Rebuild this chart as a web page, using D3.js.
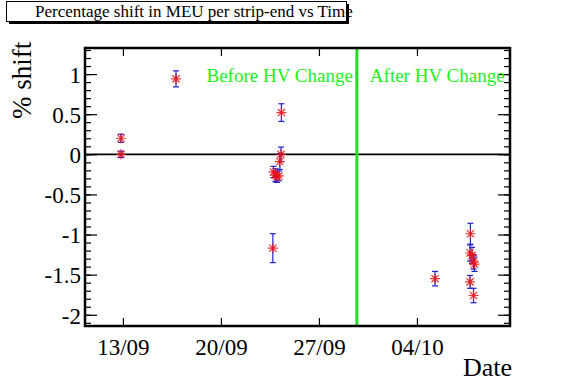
<!DOCTYPE html>
<html>
<head>
<meta charset="utf-8">
<script src="https://cdn.jsdelivr.net/npm/d3@7"></script>
<style>
  body { margin: 0; background: #fff; }
  svg text { font-family: "Liberation Serif", "DejaVu Serif", serif; }
</style>
</head>
<body>
<svg id="chart" width="567" height="384"></svg>
<script>
// measurement times (UTC), % shift and its error
var dates = [
  "2005-09-12T20:40", "2005-09-12T20:40", "2005-09-16T19:00",
  "2005-09-23T17:00", "2005-09-23T18:00", "2005-09-23T21:20", "2005-09-24T00:00",
  "2005-09-24T03:20", "2005-09-24T05:00", "2005-09-24T07:00", "2005-09-24T07:40",
  "2005-10-05T07:00", "2005-10-07T19:40", "2005-10-07T19:00", "2005-10-07T22:20",
  "2005-10-08T01:00", "2005-10-08T02:40", "2005-10-07T19:00", "2005-10-08T01:00"
];
var shifts = [
  0.2, 0.0, 0.94,
  -1.17, -0.22, -0.26, -0.28,
  -0.27, -0.09, 0.0, 0.52,
  -1.55, -0.99, -1.23, -1.26,
  -1.34, -1.37, -1.59, -1.76
];
var errors = [
  0.05, 0.04, 0.1,
  0.18, 0.07, 0.08, 0.07,
  0.06, 0.1, 0.09, 0.11,
  0.09, 0.13, 0.1, 0.1,
  0.09, 0.09, 0.08, 0.09
];
var xTickDates = ["2005-09-13", "2005-09-20", "2005-09-27", "2005-10-04"];
var yMajor = [-2, -1.5, -1, -0.5, 0, 0.5, 1];
var hvChangeDate = "2005-09-29T17:00";
var xDomain = ["2005-09-10T07:00", "2005-10-10T15:30"];
var yDomain = [-2.14, 1.325];

var parse = d3.utcParse("%Y-%m-%dT%H:%M");
var parseDay = d3.utcParse("%Y-%m-%d");
var serif = "'Liberation Serif', 'DejaVu Serif', serif";

var margin = {top: 48, right: 57, bottom: 58, left: 85},
  width = 567 - margin.left - margin.right,
  height = 384 - margin.top - margin.bottom;

var x = d3.scaleUtc().domain(xDomain.map(parse)).range([0, width]);
var y = d3.scaleLinear().domain(yDomain).range([height, 0]);

var data = dates.map(function (d, i) {
  return {t: parse(d), v: shifts[i], e: errors[i]};
});

var svg = d3.select("#chart");
var g = svg.append("g").attr("transform", "translate(" + margin.left + "," + margin.top + ")");

var minor = d3.range(-21, 14).map(function (k) { return k / 10; })
  .filter(function (v) { return v >= yDomain[0] && v <= yDomain[1]; });

// y axis (left), ticks point inward
g.append("g")
  .call(d3.axisLeft(y).tickValues(minor).tickSize(-6).tickFormat(""))
  .call(function (a) { a.select(".domain").remove(); });
var yAx = g.append("g")
  .call(d3.axisLeft(y).tickValues(yMajor).tickSize(-12).tickPadding(4)
    .tickFormat(function (d) { return d; }));
yAx.select(".domain").remove();
yAx.attr("font-family", null);
yAx.selectAll("text").attr("font-size", 23).style("font-family", serif).attr("x", -4).attr("dy", "0.36em");

// y axis (right)
g.append("g").attr("transform", "translate(" + width + ",0)")
  .call(d3.axisRight(y).tickValues(minor).tickSize(-6).tickFormat(""))
  .call(function (a) { a.select(".domain").remove(); });
g.append("g").attr("transform", "translate(" + width + ",0)")
  .call(d3.axisRight(y).tickValues(yMajor).tickSize(-12).tickFormat(""))
  .call(function (a) { a.select(".domain").remove(); });

// x axes
var xTicks = xTickDates.map(parseDay);
var xAx = g.append("g").attr("transform", "translate(0," + height + ")")
  .call(d3.axisBottom(x).tickValues(xTicks).tickSize(-8).tickPadding(13)
    .tickFormat(d3.utcFormat("%d/%m")));
xAx.select(".domain").remove();
xAx.attr("font-family", null);
xAx.selectAll("text").attr("font-size", 23).style("font-family", serif);
g.append("g")
  .call(d3.axisTop(x).tickValues(xTicks).tickSize(-8).tickFormat(""))
  .call(function (a) { a.select(".domain").remove(); });

g.selectAll(".tick line").attr("stroke", "#000").attr("stroke-width", 1.2);

// zero line
g.append("line")
  .attr("x1", 0).attr("x2", width)
  .attr("y1", y(0)).attr("y2", y(0))
  .attr("stroke", "#000").attr("stroke-width", 1.8);

// HV change line
var xh = x(parse(hvChangeDate));
g.append("line")
  .attr("x1", xh).attr("x2", xh)
  .attr("y1", 0).attr("y2", height)
  .attr("stroke", "#22dd22").attr("stroke-width", 3);

g.append("text").attr("x", xh - 4).attr("y", y(1) + 8)
  .attr("text-anchor", "end").attr("fill", "#22ee22").attr("font-size", 19)
  .style("font-family", serif)
  .text("Before HV Change");
g.append("text").attr("x", xh + 13).attr("y", y(1) + 8)
  .attr("fill", "#22ee22").attr("font-size", 19)
  .style("font-family", serif)
  .text("After HV Change");

// error bars
var bars = g.append("g").attr("stroke", "#2222cc").attr("stroke-width", 1.2);
data.forEach(function (d) {
  var cx = x(d.t);
  bars.append("line").attr("x1", cx).attr("x2", cx).attr("y1", y(d.v - d.e)).attr("y2", y(d.v + d.e));
  bars.append("line").attr("x1", cx - 3).attr("x2", cx + 3).attr("y1", y(d.v - d.e)).attr("y2", y(d.v - d.e));
  bars.append("line").attr("x1", cx - 3).attr("x2", cx + 3).attr("y1", y(d.v + d.e)).attr("y2", y(d.v + d.e));
});

// star markers
var star = "M-5,0H5M0,-5V5M-3.6,-3.6L3.6,3.6M-3.6,3.6L3.6,-3.6";
g.append("g").selectAll("path").data(data).enter().append("path")
  .attr("d", star)
  .attr("transform", function (d) { return "translate(" + x(d.t) + "," + y(d.v) + ")"; })
  .attr("stroke", "#ee1111").attr("stroke-width", 1.2).attr("fill", "none")
  .attr("opacity", 0.85);

// frame
g.append("rect").attr("width", width).attr("height", height)
  .attr("fill", "none").attr("stroke", "#000").attr("stroke-width", 2.5);

// axis titles
svg.append("text").attr("x", margin.left + width + 2).attr("y", 376)
  .attr("text-anchor", "end").attr("font-size", 26).style("font-family", serif).text("Date");
svg.append("text")
  .attr("transform", "translate(31,119) rotate(-90)")
  .attr("font-size", 27).style("font-family", serif).text("% shift");

// title box with shadow
svg.append("rect").attr("x", 9).attr("y", 4).attr("width", 340).attr("height", 20).attr("fill", "#000");
svg.append("rect").attr("x", 6.5).attr("y", 1.5).attr("width", 340).attr("height", 20)
  .attr("fill", "#fff").attr("stroke", "#000").attr("stroke-width", 1);
svg.append("text").attr("x", 35).attr("y", 17).attr("font-size", 17).style("font-family", serif)
  .text("Percentage shift in MEU per strip-end vs Time");
</script>
</body>
</html>
